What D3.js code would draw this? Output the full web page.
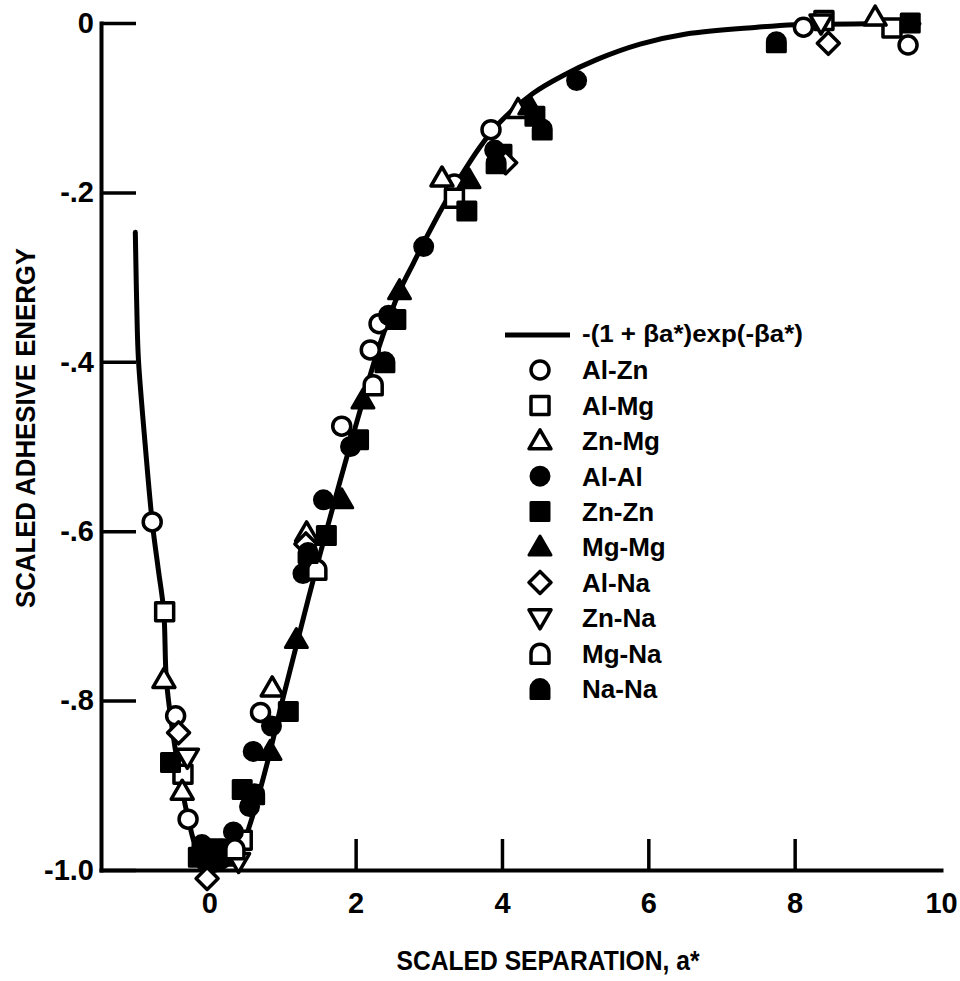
<!DOCTYPE html>
<meta charset="utf-8">
<style>
body { margin: 0; background: #fff; }
svg text { fill: #000; }
.axis text { font: bold 29px "Liberation Sans", sans-serif; }
.axis path, .axis line { stroke: #000; }
.title { font: bold 28px "Liberation Sans", sans-serif; }
.legend text { font: bold 26px "Liberation Sans", sans-serif; }
</style>
<svg id="chart" width="960" height="981"></svg>
<script src="https://cdn.jsdelivr.net/npm/d3@7"></script>
<script>

// values: [scaled separation a*, scaled adhesive energy]
const alZn = [[-0.78,-0.589],[-0.46,-0.818],[-0.29,-0.94],[0.70,-0.814],[1.81,-0.476],[2.20,-0.386],[2.32,-0.355],[3.35,-0.19],[3.85,-0.126],[8.12,-0.005],[9.55,-0.026]];
const alMg = [[-0.61,-0.695],[-0.36,-0.887],[0.45,-0.965],[3.35,-0.207],[8.40,0.003],[9.33,-0.006]];
const znMg = [[-0.62,-0.775],[-0.37,-0.907],[0.86,-0.785],[1.33,-0.602],[3.18,-0.183],[4.22,-0.102],[9.10,0.007]];
const alAl = [[-0.05,-0.99],[0.20,-0.975],[0.33,-0.955],[0.55,-0.925],[0.60,-0.86],[0.85,-0.83],[1.28,-0.65],[1.56,-0.563],[1.93,-0.50],[2.45,-0.345],[2.93,-0.264],[3.90,-0.15],[5.02,-0.068]];
const znZn = [[-0.53,-0.873],[-0.15,-0.985],[0.05,-0.975],[0.45,-0.905],[1.08,-0.813],[1.60,-0.605],[2.04,-0.492],[2.55,-0.35],[3.52,-0.222],[4.00,-0.155],[4.45,-0.11],[9.58,0.0]];
const mgMg = [[0.20,-0.985],[0.83,-0.86],[1.19,-0.728],[1.81,-0.563],[2.10,-0.445],[2.60,-0.316],[3.55,-0.185],[4.38,-0.098]];
const alNa = [[-0.42,-0.838],[-0.03,-1.01],[1.32,-0.615],[4.05,-0.165],[8.46,-0.024]];
const znNa = [[-0.30,-0.867],[0.40,-0.99],[8.36,0.0]];
const mgNa = [[0.35,-0.975],[1.47,-0.645],[2.24,-0.427]];
const naNa = [[-0.10,-0.97],[0.08,-0.985],[0.62,-0.91],[1.35,-0.625],[2.40,-0.40],[3.92,-0.165],[4.55,-0.125],[7.75,-0.022]];

// the drawn fit curve
const fitCurve = [[-1.011,-0.247],[-0.984,-0.362],[-0.966,-0.401],[-0.874,-0.50],[-0.779,-0.59],[-0.697,-0.645],
  [-0.622,-0.695],[-0.587,-0.775],[-0.505,-0.834],[-0.396,-0.893],[-0.287,-0.94],[-0.164,-0.978],[0,-1.0],
  [0.219,-0.995],[0.424,-0.976],[0.56,-0.945],[0.788,-0.875],[0.97,-0.81],[1.175,-0.74],[1.489,-0.635],
  [1.79,-0.54],[2.036,-0.465],[2.309,-0.385],[2.609,-0.315],[2.787,-0.284],[2.974,-0.252],[3.197,-0.216],
  [3.429,-0.182],[3.702,-0.146],[3.975,-0.117],[4.426,-0.083],[4.836,-0.062],[5.301,-0.043],[5.888,-0.025],
  [6.516,-0.013],[7.486,-0.005],[8.0,-0.002],[9.0,-0.001],[9.7,-0.001]];

const seriesNames = ["Al-Zn","Al-Mg","Zn-Mg","Al-Al","Zn-Zn","Mg-Mg","Al-Na","Zn-Na","Mg-Na","Na-Na"];
const seriesData = [alZn, alMg, znMg, alAl, znZn, mgMg, alNa, znNa, mgNa, naNa];
const xTicks = [0, 2, 4, 6, 8, 10];
const yTicks = [0, -0.2, -0.4, -0.6, -0.8, -1.0];
const yTickLabels = ["0", "-.2", "-.4", "-.6", "-.8", "-1.0"];

// marker look per series
const shapes = ["circle","square","triangle","circle","square","triangle","diamond","down","arch","arch"];
const filled = [false,false,false,true,true,true,false,false,false,true];

const paths = {
  circle: "M9,0A9,9 0 1,1 -9,0A9,9 0 1,1 9,0Z",
  square: "M-9,-9H9V9H-9Z",
  triangle: "M0,-11L11,8H-11Z",
  down: "M0,11L11,-8H-11Z",
  diamond: "M0,-11L11,0L0,11L-11,0Z",
  arch: "M-9,10V0A9,9 0 0,1 9,0V10Z"
};

let svg = d3.select("#chart");

let x = d3.scaleLinear().domain([-1.48, 10]).range([101, 941]);
let y = d3.scaleLinear().domain([-1, 0]).range([870, 23]);

let yAxis = svg.append("g")
    .attr("class", "axis")
    .attr("transform", "translate(" + x(-1.48) + ",0)")
    .call(d3.axisLeft(y)
      .tickValues(yTicks)
      .tickFormat((d, i) => yTickLabels[i])
      .tickSizeInner(-35)
      .tickSizeOuter(0)
      .tickPadding(7));

let xAxis = svg.append("g")
    .attr("class", "axis")
    .attr("transform", "translate(0," + y(-1) + ")")
    .call(d3.axisBottom(x)
      .tickValues(xTicks)
      .tickFormat(d3.format("d"))
      .tickSizeInner(-31)
      .tickSizeOuter(0)
      .tickPadding(22));

// no tick mark at the right end of the axis
xAxis.selectAll(".tick").filter(d => d === 10).select("line").remove();

svg.selectAll(".axis .domain")
    .attr("stroke-width", 4)
    .attr("stroke-linecap", "square");
svg.selectAll(".axis .tick line").attr("stroke-width", 3.5);
svg.selectAll(".axis text").attr("fill", "#000");

// axis titles (lettering in the scan is condensed)
svg.append("text")
    .attr("class", "title")
    .attr("transform", "translate(25,428) rotate(-90)")
    .attr("text-anchor", "middle")
    .attr("dy", "0.36em")
    .attr("textLength", 360)
    .attr("lengthAdjust", "spacingAndGlyphs")
    .text("SCALED ADHESIVE ENERGY");

svg.append("text")
    .attr("class", "title")
    .attr("x", 548)
    .attr("y", 970)
    .attr("text-anchor", "middle")
    .attr("textLength", 303)
    .attr("lengthAdjust", "spacingAndGlyphs")
    .text("SCALED SEPARATION, a*");

// fit curve
let line = d3.line()
    .x(d => x(d[0]))
    .y(d => y(d[1]))
    .curve(d3.curveCatmullRom.alpha(0.5));

svg.append("path")
    .datum(fitCurve)
    .attr("d", line)
    .attr("fill", "none")
    .attr("stroke", "#000")
    .attr("stroke-width", 5)
    .attr("stroke-linecap", "round");

// data markers
seriesData.forEach((data, i) => {
  svg.append("g").selectAll("path")
      .data(data)
    .enter().append("path")
      .attr("transform", d => "translate(" + x(d[0]) + "," + y(d[1]) + ")")
      .attr("d", paths[shapes[i]])
      .attr("fill", filled[i] ? "#000" : "#fff")
      .attr("stroke", "#000")
      .attr("stroke-width", filled[i] ? 3 : 3.5)
      .attr("stroke-linejoin", "round");
});

// legend
let legend = svg.append("g").attr("class", "legend");

legend.append("line")
    .attr("x1", 505).attr("x2", 570)
    .attr("y1", 335).attr("y2", 335)
    .attr("stroke", "#000")
    .attr("stroke-width", 5);

legend.append("text")
    .attr("x", 582)
    .attr("y", 335)
    .attr("dy", "0.32em")
    .attr("textLength", 221)
    .attr("lengthAdjust", "spacingAndGlyphs")
    .style("font-size", "23px")
    .text("-(1 + \u03b2a*)exp(-\u03b2a*)");

let row = legend.selectAll(".row")
    .data(seriesNames)
  .enter().append("g")
    .attr("class", "row")
    .attr("transform", (d, i) => "translate(540," + (370 + i * 35.4) + ")");

row.append("path")
    .attr("d", (d, i) => paths[shapes[i]])
    .attr("fill", (d, i) => filled[i] ? "#000" : "#fff")
    .attr("stroke", "#000")
    .attr("stroke-width", (d, i) => filled[i] ? 3 : 3.5)
    .attr("stroke-linejoin", "round");

row.append("text")
    .attr("x", 42)
    .attr("dy", "0.36em")
    .text(d => d);

</script>
